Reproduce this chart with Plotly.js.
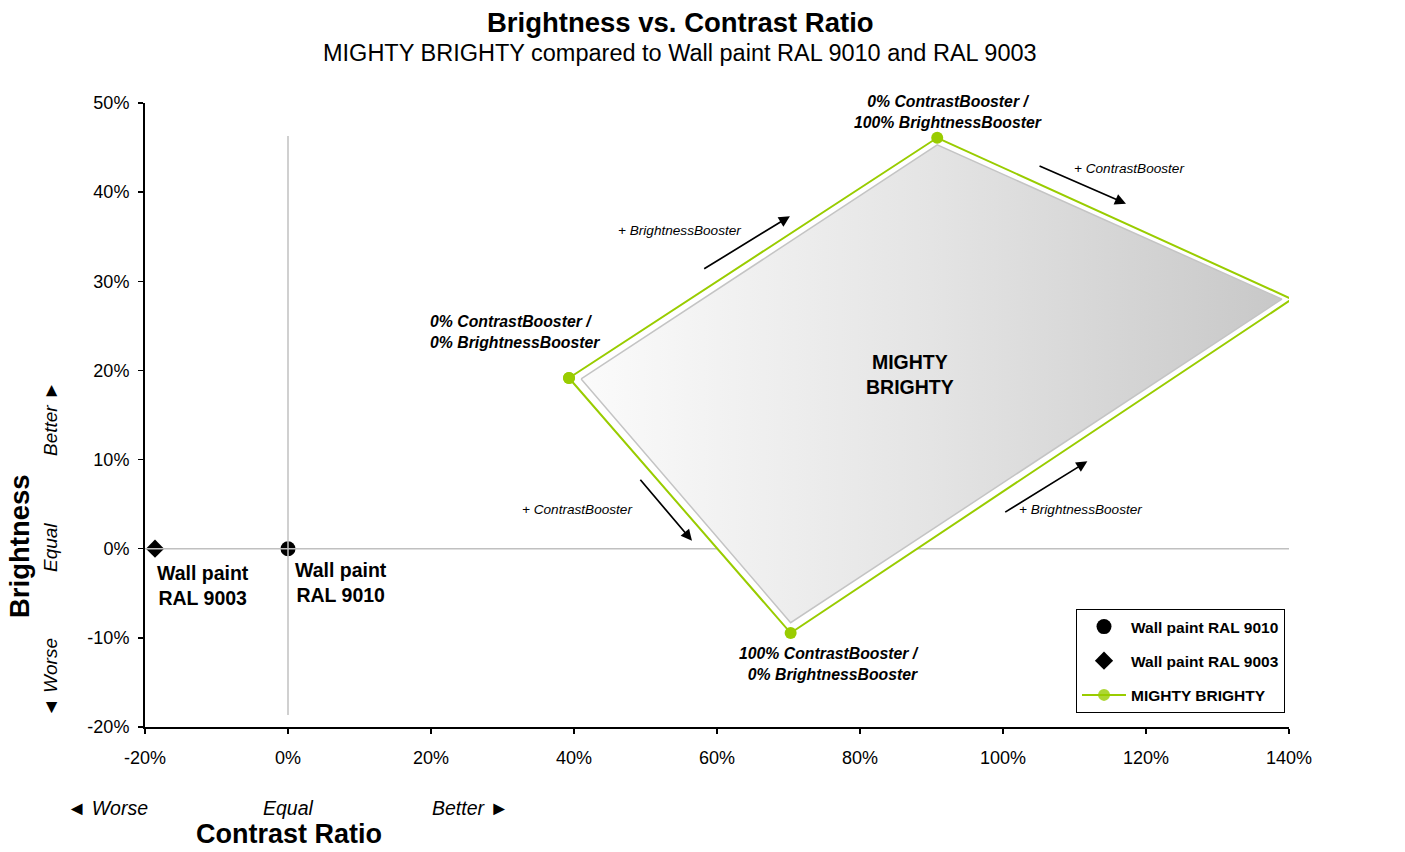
<!DOCTYPE html>
<html><head><meta charset="utf-8">
<script src="https://cdn.plot.ly/plotly-3.0.1.min.js"></script>
<style>html,body{margin:0;padding:0;background:#fff;}#chart{width:1405px;height:852px;}</style>
</head><body><div id="chart"></div>
<script>
// Data (percent units)
const ral9010X = [0];
const ral9010Y = [0];
const ral9003X = [-18.6];
const ral9003Y = [0];
const mightyX = [39.3, 90.8, 140.4, 70.3, 39.3];
const mightyY = [19.15, 46.1, 28.0, -9.46, 19.15];
const mightyMarkerOpacity = [1, 1, 0, 1, 1];
const innerX = [41.0, 90.8, 139.0, 70.3, 41.0];
const innerY = [19.05, 45.3, 28.0, -8.3, 19.05];
const hLineX = [-20, 140];
const hLineY = [0, 0];
const vLineX = [0, 0];
const vLineY = [46.3, -18.66];
const xTickVals = [-20, 0, 20, 40, 60, 80, 100, 120, 140];
const xTickText = ['-20%', '0%', '20%', '40%', '60%', '80%', '100%', '120%', '140%'];
const yTickVals = [-20, -10, 0, 10, 20, 30, 40, 50];
const yTickText = ['-20%', '-10%', '0%', '10%', '20%', '30%', '40%', '50%'];
// arrows: tail (ax,ay) -> head (x,y)
const arrowTailX = [58.0, 104.9, 49.1, 100.1];
const arrowTailY = [31.3, 43.0, 7.9, 4.0];
const arrowHeadX = [70.2, 117.2, 56.5, 111.8];
const arrowHeadY = [37.3, 38.7, 0.9, 9.8];

const FONT = 'Liberation Sans, Arial, sans-serif';
const green = '#99cc00';

const traces = [
  {x: ral9010X, y: ral9010Y, type: 'scatter', mode: 'markers', name: 'Wall paint RAL 9010',
   marker: {symbol: 'circle', size: 15, color: '#000'}, legendgroup: 'a', legendrank: 1},
  {x: ral9003X, y: ral9003Y, type: 'scatter', mode: 'markers', name: 'Wall paint RAL 9003',
   marker: {symbol: 'diamond', size: 14, color: '#000'}, legendgroup: 'b', legendrank: 2},
  {x: hLineX, y: hLineY, type: 'scatter', mode: 'lines', showlegend: false, hoverinfo: 'skip',
   line: {color: '#c0c0c0', width: 1.5}},
  {x: vLineX, y: vLineY, type: 'scatter', mode: 'lines', showlegend: false, hoverinfo: 'skip',
   line: {color: '#c0c0c0', width: 1.5}},
  {x: mightyX, y: mightyY, type: 'scatter', mode: 'lines', fill: 'toself', fillcolor: '#ffffff',
   showlegend: false, hoverinfo: 'skip', line: {color: 'rgba(0,0,0,0)', width: 0}},
  {x: innerX, y: innerY, type: 'scatter', mode: 'lines', fill: 'toself', showlegend: false, hoverinfo: 'skip',
   line: {color: '#c4c4c4', width: 1.5},
   fillgradient: {type: 'horizontal', colorscale: [[0, '#fbfbfb'], [0.5, '#e4e4e4'], [1, '#c8c8c8']]}},
  {x: mightyX, y: mightyY, type: 'scatter', mode: 'lines+markers', name: 'MIGHTY BRIGHTY',
   line: {color: green, width: 2}, marker: {color: green, size: 12, opacity: mightyMarkerOpacity},
   legendgroup: 'c', legendrank: 3}
];

const annotations = [];
for (let i = 0; i < arrowTailX.length; i++) {
  annotations.push({x: arrowHeadX[i], y: arrowHeadY[i], ax: arrowTailX[i], ay: arrowTailY[i],
    xref: 'x', yref: 'y', axref: 'x', ayref: 'y', text: '', showarrow: true,
    arrowhead: 2, arrowsize: 1.3, arrowwidth: 1.7, arrowcolor: '#000'});
}
function lab(x, y, text, size, opts) {
  annotations.push(Object.assign({x: x, y: y, xref: 'x', yref: 'y', text: text, showarrow: false,
    font: {family: FONT, size: size, color: '#000'}, xanchor: 'center', yanchor: 'middle'}, opts || {}));
}
const biSpan = (t) => '<b><i>' + t + '</i></b>';
const LBL = 15.8, SM = 13.6, BIG = 19.5;
lab(92.3, 49.0, biSpan('0% ContrastBooster /<br>100% BrightnessBooster'), LBL);
lab(117.6, 42.7, '<i>+ ContrastBooster</i>', SM);
lab(140.4, 36.1, biSpan('100% ContrastBooster  /<br>100% BrightnessBooster'), LBL);
lab(54.8, 35.75, '<i>+ BrightnessBooster</i>', SM);
lab(19.6, 24.3, biSpan('0% ContrastBooster /<br>0% BrightnessBooster'), LBL, {xanchor: 'left', align: 'left'});
lab(87.0, 19.5, '<b>MIGHTY<br>BRIGHTY</b>', BIG);
lab(40.4, 4.45, '<i>+ ContrastBooster</i>', SM);
lab(110.8, 4.45, '<i>+ BrightnessBooster</i>', SM);
lab(88.5, -12.9, biSpan('100% ContrastBooster /<br>0% BrightnessBooster'), LBL, {xanchor: 'right', align: 'right'});
lab(-11.9, -4.1, '<b>Wall paint<br>RAL 9003</b>', BIG);
lab(7.4, -3.75, '<b>Wall paint<br>RAL 9010</b>', BIG);

const L = 145, R = 116, T = 103, B = 125, W = 1405, H = 852;
function cp(px, py, text, size, opts) {
  const pw = W - L - R, ph = H - T - B;
  annotations.push(Object.assign({x: (px - L) / pw, y: (H - B - py) / ph, xref: 'paper', yref: 'paper', text: text,
    showarrow: false, font: {family: FONT, size: size, color: '#000'}, xanchor: 'center', yanchor: 'middle'}, opts || {}));
}
cp(680, 22, '<b>Brightness vs. Contrast Ratio</b>', 27.5);
cp(680, 53, 'MIGHTY BRIGHTY compared to Wall paint RAL 9010 and RAL 9003', 23.5);
cp(289, 834, '<b>Contrast Ratio</b>', 27);
cp(19, 546, '<b>Brightness</b>', 27.5, {textangle: -90});
cp(107, 808, '<i>◄ Worse</i>', 19.5);
cp(288, 808, '<i>Equal</i>', 19.5);
cp(470, 808, '<i>Better ►</i>', 19.5);
cp(50, 419, '<i>Better ►</i>', 19, {textangle: -90});
cp(50, 548, '<i>Equal</i>', 19, {textangle: -90});
cp(50, 678, '<i>◄ Worse</i>', 19, {textangle: -90});

const layout = {
  width: W, height: H,
  margin: {l: L, r: R, t: T, b: B},
  paper_bgcolor: '#fff', plot_bgcolor: '#fff',
  font: {family: FONT, color: '#000'},
  showlegend: true,
  legend: {x: (1076 - L) / (W - L - R), y: (H - B - 609) / (H - T - B), xanchor: 'left', yanchor: 'top',
    bordercolor: '#000', borderwidth: 1, bgcolor: '#fff', traceorder: 'grouped', tracegroupgap: 11,
    itemwidth: 44,
    font: {family: FONT, size: 15.5, weight: 'bold', color: '#000'}},
  xaxis: {range: [-20, 140], tickvals: xTickVals, ticktext: xTickText, showgrid: false, zeroline: false,
    showline: true, linecolor: '#000', linewidth: 2, ticks: 'outside', ticklen: 5, tickcolor: '#000', tickwidth: 1.5,
    tickfont: {family: FONT, size: 18, color: '#000'}, ticklabelstandoff: 8},
  yaxis: {range: [-20, 50], tickvals: yTickVals, ticktext: yTickText, showgrid: false, zeroline: false,
    showline: true, linecolor: '#000', linewidth: 2, ticks: 'outside', ticklen: 5, tickcolor: '#000', tickwidth: 1.5,
    tickfont: {family: FONT, size: 18, color: '#000'}, ticklabelstandoff: 5},
  annotations: annotations
};
Plotly.newPlot('chart', traces, layout, {displayModeBar: false, staticPlot: true});
</script>
</body></html>
